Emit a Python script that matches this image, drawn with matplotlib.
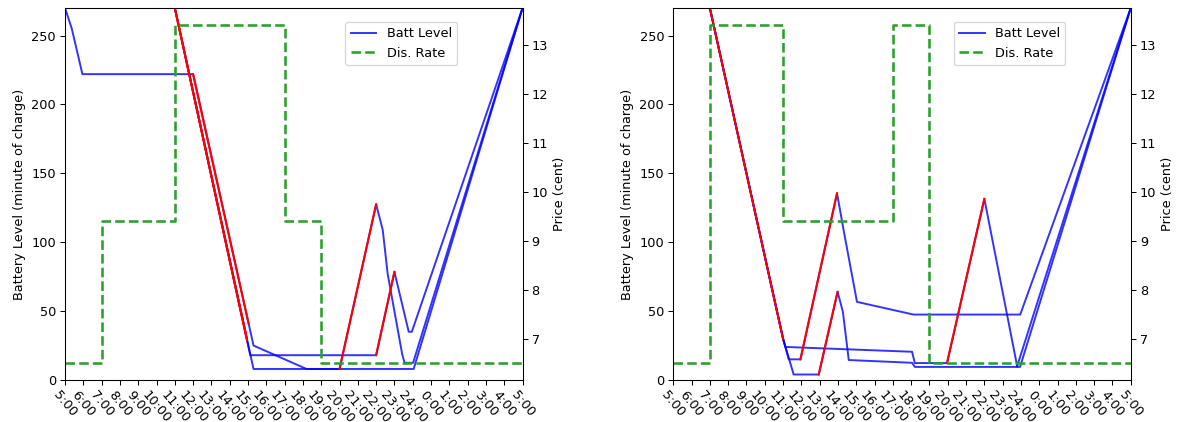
import matplotlib
matplotlib.use("Agg")
import matplotlib.pyplot as plt

# x axis: hours since 5:00, one tick per hour through 5:00 next day
hours = list(range(26))
hour_labels = ["%d:00" % h for h in range(5, 25)] + ["%d:00" % h for h in range(0, 6)]

# time-of-use discharge rate (cent), step changes
rate_t = [0, 2, 6, 12, 14, 25]
left_rate = [6.5, 9.4, 13.4, 9.4, 6.5, 6.5]
right_rate = [6.5, 13.4, 9.4, 13.4, 6.5, 6.5]

# left chart, battery level per day (minutes of charge)
left_a_t = [0, 0.37, 0.95, 7, 10.3, 13.2, 19.05, 25]
left_a_b = [270, 255, 222, 222, 25, 8, 8, 270]
left_b_t = [0, 6, 10.12, 17, 18, 18.78, 18.95, 25]
left_b_b = [270, 270, 18, 18, 78.5, 35, 35, 270]
left_c_t = [0, 6, 10.3, 15, 17, 17.36, 17.63, 18.42, 18.55, 19.02, 25]
left_c_b = [270, 270, 8, 8, 127.5, 109, 77, 19, 12.5, 12.5, 270]

# left chart, driving / charging segments (red)
left_red = [
    ([7, 10.03], [222, 41]),
    ([6, 9.94], [270, 29]),
    ([6, 9.94], [270, 30]),
    ([15, 17], [8, 127.5]),
    ([17, 18], [18, 78.5]),
]

# right chart, battery level per day
right_d_t = [0, 2, 6, 6.13, 13.05, 13.2, 14.96, 17, 18.8, 18.95, 25]
right_d_b = [270, 270, 30, 24, 20.5, 12.3, 12.3, 131.5, 9.5, 9.5, 270]
right_e_t = [0, 2, 6, 6.31, 6.95, 8.95, 9.31, 10.04, 13.13, 18.96, 25]
right_e_b = [270, 270, 30, 15, 15, 135.5, 108.7, 56.7, 47.5, 47.5, 270]
right_f_t = [0, 2, 6, 6.58, 7.95, 8.98, 9.27, 9.59, 13.05, 13.2, 18.78, 25]
right_f_b = [270, 270, 30, 4, 4, 64, 49.5, 14.5, 12.5, 9.5, 9.5, 270]

right_red = [
    ([2, 6], [270, 30]),
    ([6.95, 8.95], [15, 135.5]),
    ([7.95, 8.98], [4, 64]),
    ([14.96, 17], [12.3, 131.5]),
]

DPI = 93


def draw(ax, days, reds, rate):
    for t, b in days:
        line_b, = ax.plot(t, b, color="b", alpha=0.8, lw=1.5)
    for t, b in reds:
        ax.plot(t, b, color="r", lw=1.6)
    ax.set_xlim(0, 25)
    ax.set_ylim(0, 270)
    ax.set_xticks(hours)
    ax.set_xticklabels(hour_labels, rotation=-50)
    ax.set_ylabel("Battery Level (minute of charge)")

    ax2 = ax.twinx()
    line_r, = ax2.step(rate_t, rate, where="post", color="tab:green", ls="--", lw=2)
    ax2.set_ylabel("Price (cent)")
    ax2.legend([line_b, line_r], ["Batt Level", "Dis. Rate"],
               loc="upper left", bbox_to_anchor=(0.613, 0.962), borderaxespad=0)


fig, axes = plt.subplots(1, 2, figsize=(1178 / DPI, 422 / DPI), dpi=DPI)
fig.subplots_adjust(left=0.0552, right=0.9599, bottom=0.0995, top=0.981, wspace=0.3294)

draw(axes[0], [(left_a_t, left_a_b), (left_b_t, left_b_b), (left_c_t, left_c_b)],
     left_red, left_rate)
draw(axes[1], [(right_d_t, right_d_b), (right_e_t, right_e_b), (right_f_t, right_f_b)],
     right_red, right_rate)

fig.savefig("out.png", dpi=DPI)
